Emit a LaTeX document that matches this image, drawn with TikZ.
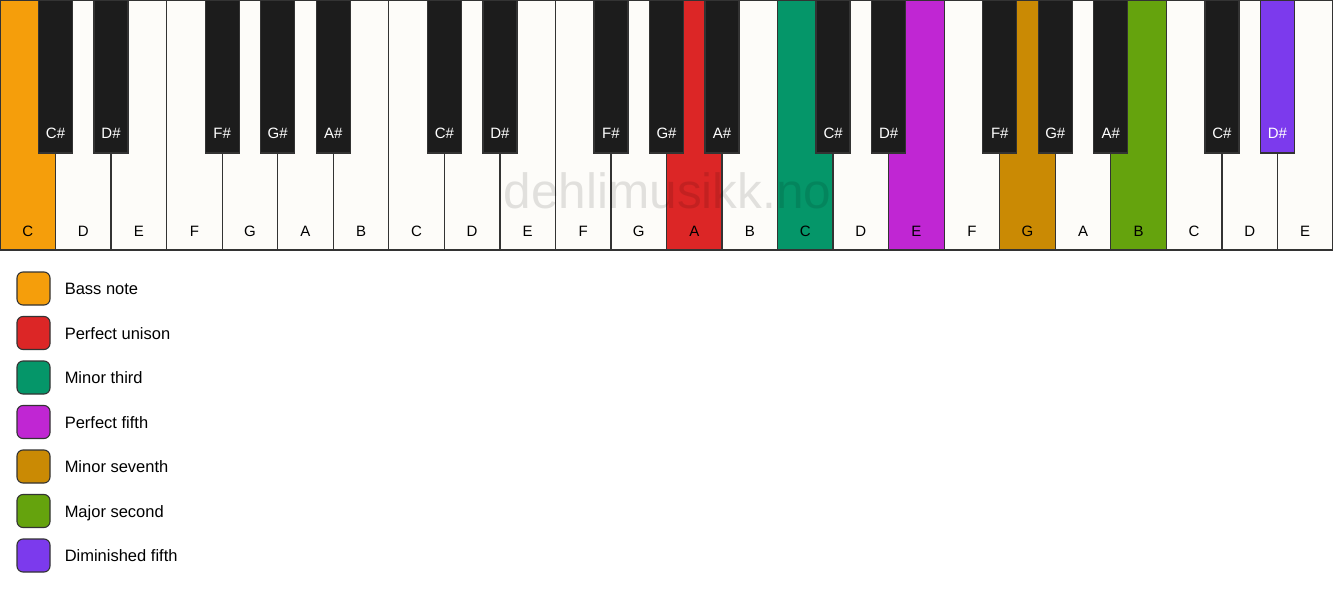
\documentclass[tikz,border=0pt]{standalone}
\usepackage{fontspec}
\setmainfont{Liberation Sans}
\definecolor{keywhite}{HTML}{FDFCF9}
\definecolor{keyblack}{HTML}{1C1C1C}
\definecolor{keyline}{HTML}{333333}
\definecolor{cbass}{HTML}{F59E0B}
\definecolor{cunison}{HTML}{DC2626}
\definecolor{cthird}{HTML}{059669}
\definecolor{cfifth}{HTML}{C026D3}
\definecolor{cseventh}{HTML}{CA8A04}
\definecolor{csecond}{HTML}{65A30D}
\definecolor{cdim}{HTML}{7C3AED}
\begin{document}
\begin{tikzpicture}[x=1pt,y=-1pt,
  whitekey/.style={draw=keyline, line width=1.3pt, rectangle, anchor=north west,
    minimum width=55.5417pt, minimum height=250pt, inner sep=0pt, outer sep=0pt},
  blackkey/.style={draw=keyline, line width=1.3pt, rectangle, anchor=north,
    minimum width=34pt, minimum height=153pt, inner sep=0pt, outer sep=0pt},
  keylbl/.style={font=\fontsize{15}{15}\selectfont, anchor=base, inner sep=0pt},
  legbox/.style={draw=keyline, line width=1.1pt, rounded corners=6pt,
    minimum width=33pt, minimum height=33pt, inner sep=0pt},
  legtext/.style={font=\fontsize{16.5}{16.5}\selectfont, anchor=base west, inner sep=0pt},
  wmark/.style={font=\fontsize{49.5}{49.5}\selectfont, text=black, text opacity=0.11, anchor=base, inner sep=0pt}
]
\useasboundingbox[fill=white] (0,0) rectangle (1333,594);
% white keys
\foreach \i/\n/\c in {0/C/cbass,1/D/keywhite,2/E/keywhite,3/F/keywhite,4/G/keywhite,5/A/keywhite,6/B/keywhite,
  7/C/keywhite,8/D/keywhite,9/E/keywhite,10/F/keywhite,11/G/keywhite,12/A/cunison,13/B/keywhite,
  14/C/cthird,15/D/keywhite,16/E/cfifth,17/F/keywhite,18/G/cseventh,19/A/keywhite,20/B/csecond,
  21/C/keywhite,22/D/keywhite,23/E/keywhite}{
  \node[whitekey, fill=\c] (w\i) at ({\i*55.541667},0) {};
  \node[keylbl] (wl\i) at ([yshift=14pt]w\i.south) {\n};
}
% watermark
\node[wmark] (wm) at (667.5,208) {dehlimusikk.no};
% black keys
\foreach \b/\n/\c/\t in {1/C/keyblack/white,2/D/keyblack/white,4/F/keyblack/white,5/G/keyblack/white,6/A/keyblack/white,
  8/C/keyblack/white,9/D/keyblack/white,11/F/keyblack/white,12/G/keyblack/white,13/A/keyblack/white,
  15/C/keyblack/white,16/D/keyblack/white,18/F/keyblack/white,19/G/keyblack/white,20/A/keyblack/white,
  22/C/keyblack/white,23/D/cdim/white}{
  \node[blackkey, fill=\c] (b\b) at ({\b*55.541667},0) {};
  \node[keylbl, text=\t] (bl\b) at ([yshift=14.5pt]b\b.south) {\n\#};
}
% legend
\foreach \k/\c/\t in {0/cbass/Bass note,1/cunison/Perfect unison,2/cthird/Minor third,3/cfifth/Perfect fifth,
  4/cseventh/Minor seventh,5/csecond/Major second,6/cdim/Diminished fifth}{
  \node[legbox, fill=\c] (l\k) at (33.5,{288.5+44.5*\k}) {};
  \node[legtext] (lt\k) at ([xshift=14pt,yshift=-6pt]l\k.east) {\t};
}
\end{tikzpicture}
\end{document}
